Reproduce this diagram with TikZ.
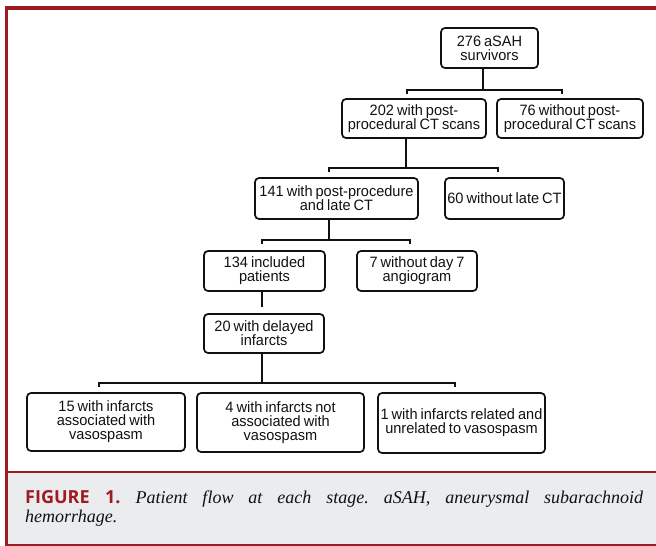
\documentclass[tikz,border=0pt]{standalone}
\usepackage[dvipsnames]{xcolor}
\usepackage{fontspec}
\setmainfont{Liberation Serif}
\newfontfamily\boxfont[FakeStretch=0.97, WordSpace=0.75]{Liberation Sans}
\newfontfamily\labelfont{Open Sans}
\usepackage{tikz}
\usetikzlibrary{positioning}
\definecolor{figred}{HTML}{9E1B22}
\definecolor{capgrey}{HTML}{EBECEE}
\definecolor{inkgrey}{HTML}{111111}

\begin{document}
\frenchspacing
\begin{tikzpicture}
             %% setup
             [
                 x=1pt, y=-1pt,
                 flowbox/.style={rectangle, rounded corners=4pt, draw=inkgrey, line width=1.7pt, text=inkgrey, align=center, inner sep=0pt, font=\boxfont\fontsize{15}{14}\selectfont},
                 joinline/.style={draw=inkgrey, line width=1.4pt},
                 trunkline/.style={draw=inkgrey, line width=2.2pt},
                 captext/.style={inner sep=0pt, anchor=base west, text=inkgrey, font=\fontsize{18}{20}\selectfont},
             ]
                 \useasboundingbox (0,0) rectangle (656,546);

                 %% Frame
                 \fill[capgrey] (8,473) rectangle (656,545);
                 \draw[figred, line width=3.5pt] (656,8) -- (6.5,8) -- (6.5,546);
                 \draw[figred, line width=2pt] (6.5,472) -- (656,472);
                 \draw[figred, line width=2pt] (6.5,545) -- (656,545);

                 %% Nodes
                 \node [flowbox, minimum width=97pt, minimum height=40pt] (survivors) at (489.5,48) {276 aSAH\\survivors};
                 \node [flowbox, minimum width=144pt, minimum height=39pt] (withCT) at (414,118.5) {202 with post-\\procedural CT scans};
                 \node [flowbox, minimum width=146pt, minimum height=39pt] (withoutCT) at (570,118.5) {76 without post-\\procedural CT scans};
                 \node [flowbox, minimum width=163pt, minimum height=41pt] (lateCT) at (336.5,198.5) {141 with post-procedure\\and late CT};
                 \node [flowbox, minimum width=119pt, minimum height=41pt] (noLateCT) at (504.5,198.5) {60 without late CT};
                 \node [flowbox, minimum width=121pt, minimum height=40pt] (included) at (264.5,271) {134 included\\patients};
                 \node [flowbox, minimum width=120pt, minimum height=40pt] (noAngio) at (417,271) {7 without day 7\\angiogram};
                 \node [flowbox, minimum width=120pt, minimum height=39pt] (delayed) at (264,333.5) {20 with delayed\\infarcts};
                 \node [flowbox, minimum width=158pt, minimum height=58pt] (spasm) at (106,422) {15 with infarcts\\associated with\\vasospasm};
                 \node [flowbox, minimum width=167pt, minimum height=59pt] (noSpasm) at (280.5,422.5) {4 with infarcts not\\associated with\\vasospasm};
                 \node [flowbox, minimum width=167pt, minimum height=60pt] (mixed) at (461.5,423) {1 with infarcts related and\\unrelated to vasospasm};

                 %% Split points
                 \coordinate (splitA) at (483,90);
                 \coordinate (splitAl) at (407,94);
                 \coordinate (splitAr) at (562,94);
                 \coordinate (splitB) at (406,168);
                 \coordinate (splitBl) at (329,172);
                 \coordinate (splitBr) at (498,172);
                 \coordinate (splitC) at (329,240);
                 \coordinate (splitCl) at (262,244);
                 \coordinate (splitCr) at (410,244);
                 \coordinate (stubD) at (262,307);
                 \coordinate (splitE) at (262,383);
                 \coordinate (splitEl) at (99,387);
                 \coordinate (splitEr) at (455,387);

                 %% Lines
                 \draw[joinline] (survivors.south -| splitA) -- (splitA);
                 \draw[joinline] (splitAl) -- (splitAl |- splitA) -- (splitAr |- splitA) -- (splitAr);
                 \draw[trunkline] (withCT.south -| splitB) -- (splitB);
                 \draw[joinline] (splitBl) -- (splitBl |- splitB) -- (splitBr |- splitB) -- (splitBr);
                 \draw[trunkline] (lateCT.south -| splitC) -- (splitC);
                 \draw[joinline] (splitCl) -- (splitCl |- splitC) -- (splitCr |- splitC) -- (splitCr);
                 \draw[joinline] (included.south -| stubD) -- (stubD);
                 \draw[trunkline] (delayed.south -| splitE) -- (splitE);
                 \draw[joinline] (splitEl) -- (splitEl |- splitE) -- (splitEr |- splitE) -- (splitEr);

                 %% Caption
                 \node [captext] (captionTop) at (25,503) {\makebox[618pt][s]{{\labelfont\bfseries\fontsize{18}{20}\selectfont\color{figred}FIGURE 1.} \itshape Patient flow at each stage. aSAH, aneurysmal subarachnoid}};
                 \node [captext] (captionBottom) at (25,522) {\itshape hemorrhage.};

        \end{tikzpicture}
\end{document}
